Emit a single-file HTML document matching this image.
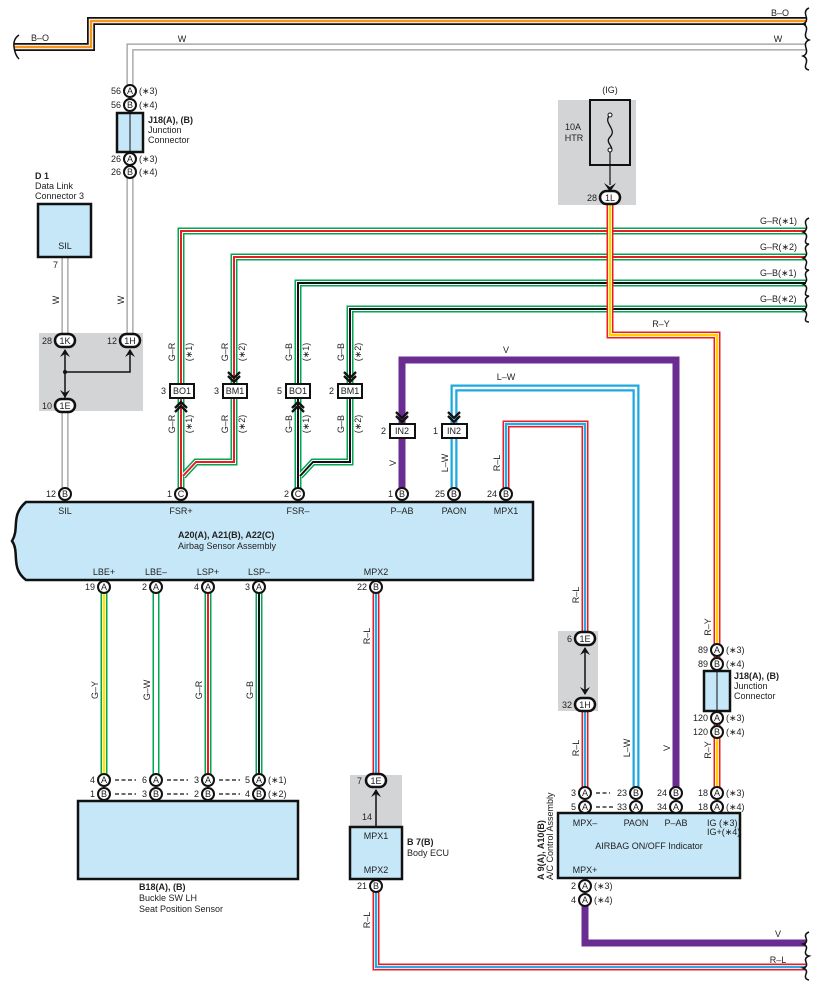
<!DOCTYPE html>
<html><head><meta charset="utf-8"><style>
html,body{margin:0;padding:0;background:#fff}
svg{display:block}
text{font-family:"Liberation Sans",sans-serif;font-size:9px;fill:#222}
.b{font-weight:bold}
.m{text-anchor:middle}
.e{text-anchor:end}
.pin{fill:#fff;stroke:#111;stroke-width:2}
.box{fill:#c6e7f7;stroke:#111;stroke-width:2.5}
.gray{fill:#d3d4d6}
.w{fill:none;stroke-linejoin:miter}
</style></head><body>
<svg width="817" height="992" viewBox="0 0 817 992" xmlns="http://www.w3.org/2000/svg">
<!-- gray boxes -->
<rect class="gray" x="39" y="333" width="104" height="78"/>
<rect class="gray" x="558" y="100" width="78" height="105"/>
<rect class="gray" x="558" y="631" width="40" height="80"/>
<rect class="gray" x="350" y="775" width="52" height="52"/>

<!-- wires -->
<g class="w">
<path d="M14,47 H91 V21 H806" stroke="#111" stroke-width="8" fill="none"/>
<path d="M14,47 H91 V21 H806" stroke="#fff" stroke-width="4.5" fill="none"/>
<path d="M14,47 H91 V21 H806" stroke="#f7941d" stroke-width="2.5" fill="none"/>
<path d="M130,90 V47 H806 M130,178 V340 M65,257 V340 M65,405 V494" stroke="#9a9a9a" stroke-width="7" fill="none"/>
<path d="M130,90 V47 H806 M130,178 V340 M65,257 V340 M65,405 V494" stroke="#fff" stroke-width="4.5" fill="none"/>
<g fill="none">
<path d="M806,231 H181 V494 M806,257 H234 V462 H196 L183,476 M806,283 H298 V494 M806,309 H350 V462 H313 L300,476 M104,587 V780 M156,587 V780 M208,587 V780 M259,587 V780" stroke="#00a651" stroke-width="7"/>
<path d="M806,231 H181 V494 M806,257 H234 V462 H196 L183,476 M806,283 H298 V494 M806,309 H350 V462 H313 L300,476 M104,587 V780 M156,587 V780 M208,587 V780 M259,587 V780" stroke="#fff" stroke-width="4"/>
<path d="M806,231 H181 V494 M806,257 H234 V462 H196 L183,476 M208,587 V780" stroke="#ed1c24" stroke-width="2"/>
<path d="M806,283 H298 V494 M806,309 H350 V462 H313 L300,476 M259,587 V780" stroke="#111" stroke-width="2"/>
<path d="M104,587 V780" stroke="#ffe600" stroke-width="2.5"/>
<path d="M454,494 V388 H636 V793" stroke="#1ba9e1" stroke-width="7"/>
<path d="M454,494 V388 H636 V793" stroke="#fff" stroke-width="2.5"/>
<path d="M506,494 V424 H585 V638 M585,704 V793 M376,587 V780 M376,886 V967 H806" stroke="#ed1c24" stroke-width="7"/>
<path d="M506,494 V424 H585 V638 M585,704 V793 M376,587 V780 M376,886 V967 H806" stroke="#fff" stroke-width="4"/>
<path d="M506,494 V424 H585 V638 M585,704 V793 M376,587 V780 M376,886 V967 H806" stroke="#29abe2" stroke-width="2.5"/>
<path d="M402,494 V360 H676 V793 M585,899 V943 H806" stroke="#6b2c91" stroke-width="7"/>
<path d="M610,205 V335 H717 V793" stroke="#ed1c24" stroke-width="7"/>
<path d="M610,205 V335 H717 V793" stroke="#fff" stroke-width="4"/>
<path d="M610,205 V335 H717 V793" stroke="#ffd200" stroke-width="2.5"/>
</g>
</g>

<!-- braces -->
<g fill="none" stroke="#111" stroke-width="1.5">
<path d="M809,8 q-5,2 -3,8 q2,6 -3,8 q5,2 3,8 q-2,6 3,8 q-5,2 -3,8 q2,6 -3,8 q5,2 3,8 q-2,5 3,6"/>
<path d="M19,35 q-6,4 -5,12 q1,8 5,12"/>
<path d="M809,218 q-5,2 -3,7 q2,5 -3,7 q5,2 3,7 q-2,5 3,5 q-5,2 -3,7 q2,5 -3,7 q5,2 3,7 q-2,5 3,5 q-5,2 -3,7 q2,5 -3,7 q5,2 3,7 q-2,5 3,5 q-5,2 -3,7 q2,5 -3,7 q5,2 3,7 q-2,5 3,5"/>
<path d="M809,932 q-5,2 -3,6 q2,5 -3,6 q5,2 3,6 q-2,5 3,6 q-5,2 -3,6 q2,5 -3,6 q5,2 3,6 q-2,5 3,6"/>
</g>

<!-- fuse -->
<rect x="590" y="100" width="40" height="65" fill="#d3d4d6" stroke="#111" stroke-width="2"/>
<path d="M610,115 c-8,8 8,14 0,22 c-6,6 6,10 0,15" fill="none" stroke="#111" stroke-width="1.3"/>
<circle cx="610" cy="115" r="2" fill="#fff" stroke="#111"/><circle cx="610" cy="150" r="2" fill="#fff" stroke="#111"/>
<line x1="610" y1="152" x2="610" y2="185" stroke="#111" stroke-width="1.2"/>
<path d="M604,183 L610,192 L616,183 L610,187 Z" fill="#111"/>
<text x="610" y="93" class="m">(IG)</text>
<text x="573" y="130" class="m">10A</text><text x="574" y="141" class="m">HTR</text>

<g stroke="#111" stroke-width="1.5" fill="none">
<path d="M65,350 V398 M65,372 H130 V350"/>
</g>
<circle cx="65" cy="372" r="2" fill="#111"/>
<path d="M60,357 L65,349 L70,357 L65,354 Z" fill="#111"/>
<path d="M125,357 L130,349 L135,357 L130,354 Z" fill="#111"/>
<path d="M60,390 L65,398 L70,390 L65,393 Z" fill="#111"/>
<path d="M585,648 V694" stroke="#111" stroke-width="1.5"/>
<path d="M580,655 L585,647 L590,655 L585,652 Z" fill="#111"/>
<path d="M580,687 L585,695 L590,687 L585,690 Z" fill="#111"/>
<path d="M376,790 V827" stroke="#111" stroke-width="1.5"/>
<path d="M371,797 L376,789 L381,797 L376,794 Z" fill="#111"/>

<g fill="#fff" stroke="#111" stroke-width="2.5">
<rect x="55" y="334" width="20" height="13" rx="6.5"/>
<rect x="120" y="334" width="20" height="13" rx="6.5"/>
<rect x="55" y="399" width="20" height="13" rx="6.5"/>
<rect x="600" y="191" width="20" height="13" rx="6.5"/>
<rect x="575" y="632" width="20" height="13" rx="6.5"/>
<rect x="575" y="698" width="20" height="13" rx="6.5"/>
<rect x="366" y="774" width="20" height="13" rx="6.5"/>
</g>
<text x="65" y="344" class="m">1K</text><text x="130" y="344" class="m">1H</text><text x="65" y="409" class="m">1E</text>
<text x="610" y="201" class="m">1L</text><text x="585" y="642" class="m">1E</text><text x="585" y="708" class="m">1H</text><text x="376" y="784" class="m">1E</text>
<text x="52" y="344" class="e">28</text><text x="117" y="344" class="e">12</text><text x="52" y="409" class="e">10</text>
<text x="597" y="201" class="e">28</text><text x="572" y="642" class="e">6</text><text x="572" y="708" class="e">32</text><text x="362" y="784" class="e">7</text>
<text x="367" y="820" class="m">14</text>

<rect class="box" x="38" y="204" width="53" height="53"/>
<text x="65" y="249" class="m">SIL</text>
<rect class="box" x="117" y="113" width="26" height="39"/><line x1="130" y1="113" x2="130" y2="152" stroke="#111" stroke-width="1"/>
<rect class="box" x="704" y="671" width="26" height="40"/><line x1="717" y1="671" x2="717" y2="711" stroke="#111" stroke-width="1"/>
<path class="box" d="M26,502 H533 V580 H26 C10,568 20,552 12,541 C20,528 10,516 26,502 Z"/>
<rect class="box" x="78" y="801" width="220" height="78"/>
<rect class="box" x="350" y="827" width="52" height="52"/>
<rect class="box" x="558" y="813" width="182" height="65"/>

<g fill="#fff" stroke="#111" stroke-width="2">
<rect x="170" y="384" width="24" height="14"/><rect x="223" y="384" width="24" height="14"/>
<rect x="286" y="384" width="24" height="14"/><rect x="338" y="384" width="24" height="14"/>
<rect x="390" y="424" width="25" height="14"/><rect x="442" y="424" width="25" height="14"/>
</g>
<text x="182" y="394" class="m">BO1</text><text x="235" y="394" class="m">BM1</text><text x="298" y="394" class="m">BO1</text><text x="350" y="394" class="m">BM1</text>
<text x="402" y="434" class="m">IN2</text><text x="454" y="434" class="m">IN2</text>
<text x="166" y="394" class="e">3</text><text x="219" y="394" class="e">3</text><text x="282" y="394" class="e">5</text><text x="334" y="394" class="e">2</text><text x="386" y="434" class="e">2</text><text x="438" y="434" class="e">1</text>
<g fill="none" stroke="#111" stroke-width="2.3">
<path d="M228,372 L234,378 L240,372 M228,376 L234,382 L240,376"/>
<path d="M344,372 L350,378 L356,372 M344,376 L350,382 L356,376"/>
<path d="M396,412 L402,418 L408,412 M396,416 L402,422 L408,416"/>
<path d="M448,412 L454,418 L460,412 M448,416 L454,422 L460,416"/>
<path d="M175,408 L181,402 L187,408 M175,412 L181,406 L187,412"/>
<path d="M292,408 L298,402 L304,408 M292,412 L298,406 L304,412"/>
</g>

<g class="pin">
<circle cx="130" cy="91" r="6"/><circle cx="130" cy="105" r="6"/><circle cx="130" cy="159" r="6"/><circle cx="130" cy="172" r="6"/>
<circle cx="65" cy="494" r="6"/><circle cx="181" cy="494" r="6"/><circle cx="298" cy="494" r="6"/><circle cx="402" cy="494" r="6"/><circle cx="454" cy="494" r="6"/><circle cx="506" cy="494" r="6"/>
<circle cx="104" cy="587" r="6"/><circle cx="156" cy="587" r="6"/><circle cx="208" cy="587" r="6"/><circle cx="259" cy="587" r="6"/><circle cx="376" cy="587" r="6"/>
<circle cx="104" cy="780" r="6"/><circle cx="156" cy="780" r="6"/><circle cx="208" cy="780" r="6"/><circle cx="259" cy="780" r="6"/>
<circle cx="104" cy="794" r="6"/><circle cx="156" cy="794" r="6"/><circle cx="208" cy="794" r="6"/><circle cx="259" cy="794" r="6"/>
<circle cx="376" cy="886" r="6"/>
<circle cx="717" cy="650" r="6"/><circle cx="717" cy="664" r="6"/><circle cx="717" cy="718" r="6"/><circle cx="717" cy="732" r="6"/>
<circle cx="585" cy="793" r="6"/><circle cx="636" cy="793" r="6"/><circle cx="676" cy="793" r="6"/><circle cx="717" cy="793" r="6"/>
<circle cx="585" cy="807" r="6"/><circle cx="636" cy="807" r="6"/><circle cx="676" cy="807" r="6"/><circle cx="717" cy="807" r="6"/>
<circle cx="585" cy="886" r="6"/><circle cx="585" cy="900" r="6"/>
</g>
<g class="m" style="font-size:8.5px">
<text x="130" y="94" class="m">A</text><text x="130" y="108" class="m">B</text><text x="130" y="162" class="m">A</text><text x="130" y="175" class="m">B</text>
<text x="65" y="497" class="m">B</text><text x="181" y="497" class="m">C</text><text x="298" y="497" class="m">C</text><text x="402" y="497" class="m">B</text><text x="454" y="497" class="m">B</text><text x="506" y="497" class="m">B</text>
<text x="104" y="590" class="m">A</text><text x="156" y="590" class="m">A</text><text x="208" y="590" class="m">A</text><text x="259" y="590" class="m">A</text><text x="376" y="590" class="m">B</text>
<text x="104" y="783" class="m">A</text><text x="156" y="783" class="m">A</text><text x="208" y="783" class="m">A</text><text x="259" y="783" class="m">A</text>
<text x="104" y="797" class="m">B</text><text x="156" y="797" class="m">B</text><text x="208" y="797" class="m">B</text><text x="259" y="797" class="m">B</text>
<text x="376" y="889" class="m">B</text>
<text x="717" y="653" class="m">A</text><text x="717" y="667" class="m">B</text><text x="717" y="721" class="m">A</text><text x="717" y="735" class="m">B</text>
<text x="585" y="796" class="m">A</text><text x="636" y="796" class="m">B</text><text x="676" y="796" class="m">B</text><text x="717" y="796" class="m">A</text>
<text x="585" y="810" class="m">A</text><text x="636" y="810" class="m">A</text><text x="676" y="810" class="m">A</text><text x="717" y="810" class="m">A</text>
<text x="585" y="889" class="m">A</text><text x="585" y="903" class="m">A</text>
</g>
<text x="121" y="94" class="e">56</text><text x="121" y="108" class="e">56</text><text x="121" y="162" class="e">26</text><text x="121" y="175" class="e">26</text>
<text x="139" y="94">(∗3)</text><text x="139" y="108">(∗4)</text><text x="139" y="162">(∗3)</text><text x="139" y="175">(∗4)</text>
<text x="58" y="268" class="e">7</text>
<text x="56" y="497" class="e">12</text><text x="172" y="497" class="e">1</text><text x="289" y="497" class="e">2</text><text x="393" y="497" class="e">1</text><text x="445" y="497" class="e">25</text><text x="497" y="497" class="e">24</text>
<text x="95" y="590" class="e">19</text><text x="147" y="590" class="e">2</text><text x="199" y="590" class="e">4</text><text x="250" y="590" class="e">3</text><text x="367" y="590" class="e">22</text>
<text x="95" y="783" class="e">4</text><text x="147" y="783" class="e">6</text><text x="199" y="783" class="e">3</text><text x="250" y="783" class="e">5</text><text x="268" y="783">(∗1)</text>
<text x="95" y="797" class="e">1</text><text x="147" y="797" class="e">3</text><text x="199" y="797" class="e">2</text><text x="250" y="797" class="e">4</text><text x="268" y="797">(∗2)</text>
<g stroke="#111" stroke-width="1.2" stroke-dasharray="4,2.5"><path d="M115,780 H136 M167,780 H188 M219,780 H240 M115,794 H136 M167,794 H188 M219,794 H240 M596,793 H610 M596,807 H614"/></g>
<text x="367" y="889" class="e">21</text>
<text x="708" y="653" class="e">89</text><text x="708" y="667" class="e">89</text><text x="708" y="721" class="e">120</text><text x="708" y="735" class="e">120</text>
<text x="726" y="653">(∗3)</text><text x="726" y="667">(∗4)</text><text x="726" y="721">(∗3)</text><text x="726" y="735">(∗4)</text>
<text x="576" y="796" class="e">3</text><text x="627" y="796" class="e">23</text><text x="667" y="796" class="e">24</text><text x="708" y="796" class="e">18</text><text x="726" y="796">(∗3)</text>
<text x="576" y="810" class="e">5</text><text x="627" y="810" class="e">33</text><text x="667" y="810" class="e">34</text><text x="708" y="810" class="e">18</text><text x="726" y="810">(∗4)</text>
<text x="576" y="889" class="e">2</text><text x="576" y="903" class="e">4</text><text x="594" y="889">(∗3)</text><text x="594" y="903">(∗4)</text>

<text x="148" y="123" class="b">J18(A), (B)</text><text x="148" y="133">Junction</text><text x="148" y="143">Connector</text>
<text x="734" y="679" class="b">J18(A), (B)</text><text x="734" y="689">Junction</text><text x="734" y="699">Connector</text>
<text x="35" y="179" class="b">D 1</text><text x="35" y="189">Data Link</text><text x="35" y="199">Connector 3</text>
<text x="65" y="514" class="m">SIL</text><text x="181" y="514" class="m">FSR+</text><text x="298" y="514" class="m">FSR–</text><text x="402" y="514" class="m">P–AB</text><text x="454" y="514" class="m">PAON</text><text x="506" y="514" class="m">MPX1</text>
<text x="178" y="538" class="b">A20(A), A21(B), A22(C)</text><text x="178" y="549">Airbag Sensor Assembly</text>
<text x="104" y="575" class="m">LBE+</text><text x="156" y="575" class="m">LBE–</text><text x="208" y="575" class="m">LSP+</text><text x="259" y="575" class="m">LSP–</text><text x="376" y="575" class="m">MPX2</text>
<text x="139" y="890" class="b">B18(A), (B)</text><text x="139" y="901">Buckle SW LH</text><text x="139" y="912">Seat Position Sensor</text>
<text x="376" y="839" class="m">MPX1</text><text x="376" y="873" class="m">MPX2</text>
<text x="407" y="845" class="b">B 7(B)</text><text x="407" y="856">Body ECU</text>
<text x="585" y="826" class="m">MPX–</text><text x="636" y="826" class="m">PAON</text><text x="676" y="826" class="m">P–AB</text><text x="707" y="826">IG (∗3)</text><text x="707" y="835">IG+(∗4)</text>
<text x="649" y="849" class="m">AIRBAG ON/OFF Indicator</text><text x="585" y="873" class="m">MPX+</text>
<text x="544" y="880" class="b" transform="rotate(-90 544 880)">A 9(A), A10(B)</text>
<text x="553" y="880" transform="rotate(-90 553 880)">A/C Control Assembly</text>

<text x="40" y="41" class="m">B–O</text><text x="780" y="16" class="m">B–O</text>
<text x="182" y="42" class="m">W</text><text x="778" y="42" class="m">W</text>
<text x="760" y="224">G–R(∗1)</text><text x="760" y="250">G–R(∗2)</text><text x="760" y="276">G–B(∗1)</text><text x="760" y="302">G–B(∗2)</text>
<text x="661" y="327" class="m">R–Y</text><text x="506" y="353" class="m">V</text><text x="506" y="380" class="m">L–W</text>
<text x="778" y="937" class="m">V</text><text x="778" y="963" class="m">R–L</text>
<g>
<text transform="translate(59,300) rotate(-90)" class="m">W</text>
<text transform="translate(124,300) rotate(-90)" class="m">W</text>
<text transform="translate(175,352) rotate(-90)" class="m">G–R</text><text transform="translate(192,352) rotate(-90)" class="m">(∗1)</text>
<text transform="translate(228,352) rotate(-90)" class="m">G–R</text><text transform="translate(245,352) rotate(-90)" class="m">(∗2)</text>
<text transform="translate(292,352) rotate(-90)" class="m">G–B</text><text transform="translate(309,352) rotate(-90)" class="m">(∗1)</text>
<text transform="translate(344,352) rotate(-90)" class="m">G–B</text><text transform="translate(361,352) rotate(-90)" class="m">(∗2)</text>
<text transform="translate(175,424) rotate(-90)" class="m">G–R</text><text transform="translate(192,424) rotate(-90)" class="m">(∗1)</text>
<text transform="translate(228,424) rotate(-90)" class="m">G–R</text><text transform="translate(245,424) rotate(-90)" class="m">(∗2)</text>
<text transform="translate(292,424) rotate(-90)" class="m">G–B</text><text transform="translate(309,424) rotate(-90)" class="m">(∗1)</text>
<text transform="translate(344,424) rotate(-90)" class="m">G–B</text><text transform="translate(361,424) rotate(-90)" class="m">(∗2)</text>
<text transform="translate(396,463) rotate(-90)" class="m">V</text>
<text transform="translate(448,463) rotate(-90)" class="m">L–W</text>
<text transform="translate(500,463) rotate(-90)" class="m">R–L</text>
<text transform="translate(98,690) rotate(-90)" class="m">G–Y</text>
<text transform="translate(150,690) rotate(-90)" class="m">G–W</text>
<text transform="translate(202,690) rotate(-90)" class="m">G–R</text>
<text transform="translate(253,690) rotate(-90)" class="m">G–B</text>
<text transform="translate(370,636) rotate(-90)" class="m">R–L</text>
<text transform="translate(370,920) rotate(-90)" class="m">R–L</text>
<text transform="translate(579,595) rotate(-90)" class="m">R–L</text>
<text transform="translate(579,748) rotate(-90)" class="m">R–L</text>
<text transform="translate(630,748) rotate(-90)" class="m">L–W</text>
<text transform="translate(670,748) rotate(-90)" class="m">V</text>
<text transform="translate(711,627) rotate(-90)" class="m">R–Y</text>
<text transform="translate(711,750) rotate(-90)" class="m">R–Y</text>
</g>
</svg>
</body></html>
